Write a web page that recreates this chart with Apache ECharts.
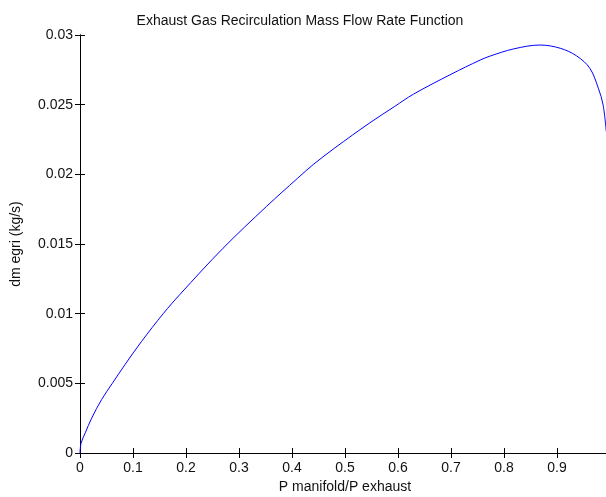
<!DOCTYPE html>
<html>
<head>
<meta charset="utf-8">
<script src="https://cdn.jsdelivr.net/npm/echarts@6/dist/echarts.min.js"></script>
<style>
html,body{margin:0;padding:0;background:#fff;}
#chart{width:606px;height:497px;}
</style>
</head>
<body>
<div id="chart"></div>
<script>
var titleText = 'Exhaust Gas Recirculation Mass Flow Rate Function';
var xName = 'P manifold/P exhaust';
var yName = 'dm egri (kg/s)';
var pressureRatio = [0, 0.002, 0.01, 0.022, 0.041, 0.061, 0.085, 0.116, 0.157, 0.189, 0.27, 0.352, 0.41, 0.44, 0.481, 0.547, 0.594, 0.629, 0.7, 0.755, 0.774, 0.818, 0.868, 0.906, 0.937, 0.962, 0.978, 0.987, 0.993];
var massFlow = [0, 0.0007, 0.00145, 0.0025, 0.00385, 0.005, 0.00635, 0.008, 0.01, 0.0114, 0.0147, 0.0177, 0.0197, 0.0207, 0.0219, 0.0237, 0.02488, 0.02575, 0.02718, 0.0282, 0.02849, 0.029, 0.02928, 0.02905, 0.0285, 0.02761, 0.02618, 0.02498, 0.02306];
var xTicks = [0, 0.1, 0.2, 0.3, 0.4, 0.5, 0.6, 0.7, 0.8, 0.9, 1];
var yTicks = [0, 0.005, 0.01, 0.015, 0.02, 0.025, 0.03];

var data = pressureRatio.map(function (x, i) { return [x, massFlow[i]]; });
var font = 'Liberation Sans, Arial, sans-serif';
var chart = echarts.init(document.getElementById('chart'), null, {renderer: 'canvas'});
function fmt(v) { return String(+v.toFixed(3)); }
var lineStyle = {color: '#000', width: 1};
var tickStyle = {show: true, inside: true, length: 5, lineStyle: {color: '#000', width: 1}};
chart.setOption({
  animation: false,
  backgroundColor: '#fff',
  title: {
    text: titleText, left: 295, top: 9, textAlign: 'center',
    textStyle: {fontFamily: font, fontSize: 14, fontWeight: 'normal', color: '#111'}
  },
  grid: {left: 80, top: 35, width: 530, height: 418, containLabel: false, outerBoundsMode: 'none'},
  xAxis: [{
    type: 'value', min: xTicks[0], max: xTicks[xTicks.length - 1], interval: 0.1,
    position: 'bottom',
    name: xName, nameLocation: 'middle', nameGap: 27,
    nameTextStyle: {fontFamily: font, fontSize: 14, color: '#111'},
    axisLine: {show: true, lineStyle: lineStyle},
    axisTick: tickStyle,
    axisLabel: {fontFamily: font, fontSize: 14, color: '#111', margin: 8, formatter: fmt},
    splitLine: {show: false}
  }, {
    type: 'value', min: 0, max: 1, interval: 0.1, position: 'top',
    axisLine: {show: true, lineStyle: lineStyle},
    axisTick: tickStyle, axisLabel: {show: false}, splitLine: {show: false}
  }],
  yAxis: [{
    type: 'value', min: yTicks[0], max: yTicks[yTicks.length - 1], interval: 0.005,
    position: 'left',
    name: yName, nameLocation: 'middle', nameGap: 57,
    nameTextStyle: {fontFamily: font, fontSize: 14, color: '#111'},
    axisLine: {show: true, lineStyle: lineStyle},
    axisTick: tickStyle,
    axisLabel: {fontFamily: font, fontSize: 14, color: '#111', margin: 7, formatter: fmt},
    splitLine: {show: false}
  }, {
    type: 'value', min: 0, max: 0.03, interval: 0.005, position: 'right',
    axisLine: {show: true, lineStyle: lineStyle},
    axisTick: tickStyle, axisLabel: {show: false}, splitLine: {show: false}
  }],
  series: [{
    type: 'line', data: data, showSymbol: false, smooth: 0.35,
    lineStyle: {color: '#0000ff', width: 1}, itemStyle: {color: '#0000ff'},
    clip: true
  }]
});
</script>
</body>
</html>
